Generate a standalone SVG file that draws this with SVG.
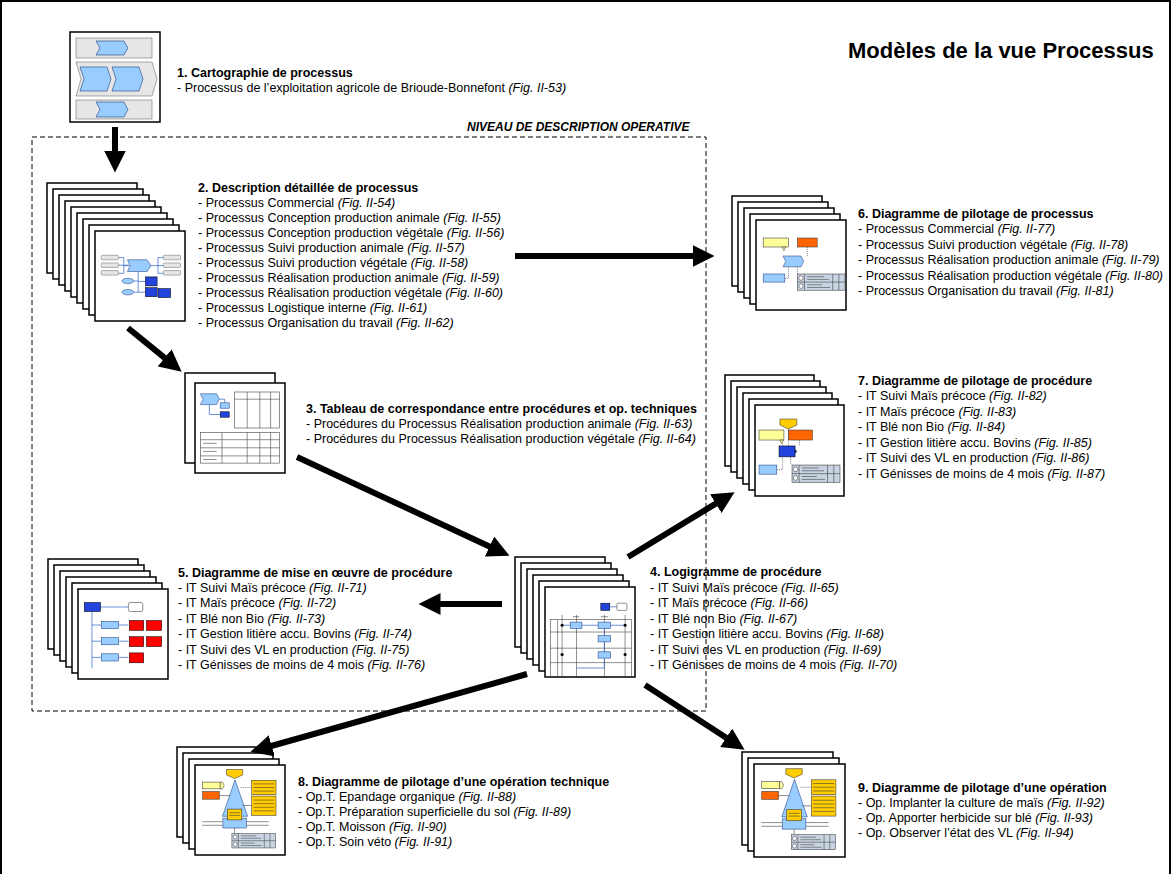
<svg xmlns="http://www.w3.org/2000/svg" xmlns:xlink="http://www.w3.org/1999/xlink" width="1172" height="874" viewBox="0 0 1172 874">
<style>
text{font-family:"Liberation Sans",Arial,sans-serif;font-size:12.5px;fill:#000}
.h{font-weight:bold}
.i{font-style:italic}
.pg{fill:#fff;stroke:#000;stroke-width:1.5}
.arr{stroke:#000;stroke-width:6;fill:none}
.lb{fill:#99ccff;stroke:#1f3f7f;stroke-width:.6}
.db{fill:#2244dd;stroke:#000;stroke-width:.6}
.gr{fill:#e6e6e6;stroke:#555;stroke-width:.5}
.bl{stroke:#3366cc;stroke-width:.8;fill:none}
.yl{fill:#ffcc00;stroke:#333;stroke-width:.6}
.py{fill:#ffff99;stroke:#333;stroke-width:.6}
.or{fill:#ff6600;stroke:#333;stroke-width:.6}
.rd{fill:#ff0000;stroke:#000;stroke-width:.6}
.wb{fill:#fff;stroke:#333;stroke-width:.6}
.tb{fill:#c8d4e2;stroke:#333;stroke-width:.6}
.ln{stroke:#333;stroke-width:.6;fill:none}
.dt{stroke:#333;stroke-width:.6;fill:none;stroke-dasharray:1.2 1}
</style>
<defs>
<marker id="ah" markerUnits="userSpaceOnUse" viewBox="0 0 22 22" refX="0.5" refY="11" markerWidth="22" markerHeight="22" orient="auto"><path d="M0,0 L22,11 L0,22 z" fill="#000"/></marker>
<g id="tbl">
<rect class="tb" x="0" y="0" width="54" height="18"/>
<line class="ln" x1="0" y1="9" x2="54" y2="9"/><line class="ln" x1="8" y1="0" x2="8" y2="18"/>
<line class="ln" x1="40" y1="0" x2="40" y2="18"/><line class="ln" x1="47" y1="0" x2="47" y2="18"/>
<circle cx="4" cy="4.5" r="2.5" class="wb"/><circle cx="4" cy="13.5" r="2.5" class="wb"/>
<path class="ln" d="M11,3 H30 M11,6 H36 M11,12 H28 M11,15 H37" stroke="#778"/>
</g>
<g id="c2">
<path class="bl" d="M26,29.5 H32 V38.5 H38 M26,38 H38 M26,47 H32 V38.5 M60,38.5 H70 V29.5 H76 M70,38.5 H76 M70,38.5 V47 H76 M48,45 V56 H56 M48,56 V68 H56 M43,55.5 H48 M43,68 H48"/>
<rect class="gr" x="7" y="27" width="19" height="5" rx="1"/><rect class="gr" x="7" y="35.5" width="19" height="5" rx="1"/><rect class="gr" x="7" y="44" width="19" height="5" rx="1"/>
<rect class="gr" x="76" y="27" width="19" height="5" rx="1"/><rect class="gr" x="76" y="35.5" width="19" height="5" rx="1"/><rect class="gr" x="76" y="44" width="19" height="5" rx="1"/>
<polygon class="lb" points="36,32 58,32 62,38.5 58,45 36,45 39,38.5"/>
<ellipse class="lb" cx="36.5" cy="55.5" rx="6.5" ry="3"/><ellipse class="lb" cx="36.5" cy="68" rx="6.5" ry="3"/>
<rect class="db" x="56" y="51" width="13" height="10"/><rect class="db" x="56" y="63" width="13" height="10"/><rect class="db" x="70" y="64" width="14" height="10"/>
</g>
<g id="c3">
<polygon class="lb" points="6,12 24,12 27,18 24,24 6,24 9,18"/>
<path class="bl" d="M16,24 V35 H28 M27,18 H33 V22"/>
<rect class="lb" x="28" y="22" width="10" height="6"/><rect class="db" x="28" y="32" width="10" height="6"/>
<rect class="ln" x="44" y="10" width="50" height="40"/>
<path class="ln" d="M44,18 H94 M58,10 V50 M72,10 V50 M84,10 V50"/>
<rect class="ln" x="6" y="55" width="88" height="34"/>
<path class="ln" d="M6,63 H94 M6,72 H94 M6,81 H94 M30,55 V89 M58,55 V89 M72,55 V89 M84,55 V89"/>
<path class="ln" stroke="#999" d="M9,67 H24 M9,76 H24 M9,85 H24"/>
</g>
<g id="c4">
<rect class="db" x="62" y="18" width="10" height="8"/><rect class="wb" x="80" y="18" width="11" height="8" rx="1"/>
<line class="bl" x1="72" y1="22" x2="80" y2="22"/>
<rect class="ln" x="6" y="36" width="90" height="64"/>
<path class="ln" d="M6,50 H96 M6,68 H96 M6,84 H96 M14,36 V100"/>
<path class="ln" d="M19,31 V100 M35,31 V100 M66,31 V100 M89,31 V100"/>
<path class="ln" stroke="#999" d="M31,33 H38 M62,33 H70"/>
<rect class="lb" x="28" y="39" width="13" height="7"/><rect class="lb" x="59" y="39" width="14" height="7"/>
<rect class="lb" x="59" y="54" width="14" height="7"/><rect class="lb" x="59" y="72" width="14" height="7"/>
<path class="bl" d="M19,42.5 H28 M41,42.5 H59 M66,46 V54 M66,61 V72 M73,42.5 H89 M66,79 V90 H35"/>
<circle cx="19" cy="42.5" r="1.7"/><circle cx="89" cy="42.5" r="1.7"/><circle cx="19" cy="75" r="1.7"/><circle cx="89" cy="75" r="1.7"/>
</g>
<g id="c5">
<path class="bl" d="M24,20 H56 M15.5,25 V88 M15.5,40 H26 M15.5,58 H26 M15.5,76 H26 M45,40 H56 M45,58 H56 M45,76 H56"/>
<rect class="db" x="7" y="15" width="18" height="10"/><rect class="wb" x="56" y="15" width="16" height="10" rx="2"/>
<rect class="lb" x="26" y="36" width="19" height="8"/><rect class="rd" x="57" y="35" width="16" height="11"/><rect class="rd" x="76" y="35" width="17" height="11"/>
<rect class="lb" x="26" y="54" width="19" height="8"/><rect class="rd" x="57" y="53" width="16" height="11"/><rect class="rd" x="76" y="53" width="17" height="11"/>
<rect class="lb" x="26" y="72" width="19" height="8"/><rect class="rd" x="57" y="71" width="16" height="11"/>
</g>
<g id="c6">
<rect class="py" x="8" y="20" width="28" height="10"/><rect class="or" x="46" y="20" width="22" height="10"/>
<polygon class="lb" points="30,40 50,40 53,46 50,52 30,52 33,46"/>
<path class="dt" d="M32,65 H36 V52 M46,52 V60 M57,30 V40"/>
<path d="M29,30 l2,4 l2,-4 z" class="py"/>
<rect class="lb" x="8" y="60" width="24" height="9"/>
<use xlink:href="#tbl" transform="translate(46,60) scale(0.98,1)"/>
</g>
<g id="c7">
<polygon class="yl" points="28,15.4 47,15.4 47,22 37.5,26.4 28,22"/>
<rect class="py" x="4.5" y="27.5" width="28" height="11"/><path class="py" d="M28,38.5 l2,4 l2,-4 z"/>
<rect class="or" x="37.6" y="27.5" width="27" height="11"/>
<path class="dt" d="M37.5,26.4 V45 M31,42.5 V47 H27 M50,38.5 V45 M24.7,71 H31 V57 M40,57 V66"/>
<rect class="db" x="27" y="45" width="18" height="12"/><path class="db" d="M45,49 l2,2 l-2,2 z"/>
<rect class="lb" x="4.5" y="66" width="20" height="10"/>
<use xlink:href="#tbl" transform="translate(41.6,66) scale(0.998,1.05)"/>
</g>
<g id="c8">
<polygon class="yl" points="35,5 53,5 53,11 44,15 35,11"/>
<polygon class="lb" points="44.5,16.5 30.5,57 58.5,57"/>
<rect class="py" x="8.5" y="19" width="19.5" height="7.5"/><path class="py" d="M28,19 h2.5 l2,3.75 l-2,3.75 h-2.5 z"/>
<rect class="or" x="8.5" y="29.5" width="18.5" height="8.5"/>
<path class="ln" d="M27,34 H39 M63,45 H53"/><path class="dt" d="M63,25 H50"/>
<rect class="yl" x="63" y="17" width="27" height="16"/><rect class="yl" x="63" y="34.5" width="27" height="21.5"/>
<path class="ln" d="M65,21 H88 M65,25 H88 M65,29 H88 M65,39 H88 M65,43 H88 M65,47 H88 M65,51 H88"/>
<path class="ln" d="M8,63 H31 M8,67 H31 M57,63 H82 M57,67 H82 M44,70 V76"/>
<rect class="lb" x="31" y="59" width="26" height="11"/>
<rect class="yl" x="36" y="49" width="16" height="12"/>
<path class="ln" d="M38,53 H50 M38,56 H50"/>
<use xlink:href="#tbl" transform="translate(41,76) scale(0.9,0.9)"/>
</g>
</defs>

<rect x="1" y="1" width="1169" height="900" fill="none" stroke="#000" stroke-width="2"/>

<text x="848" y="58" class="h" style="font-size:22px">Modèles de la vue Processus</text>

<rect id="niveau" x="32" y="137" width="674" height="574" fill="none" stroke="#000" stroke-width="1" stroke-dasharray="5 3"/>
<text x="467" y="131" class="h i" style="font-size:12px">NIVEAU DE DESCRIPTION OPERATIVE</text>

<g id="n1">
<rect class="pg" x="70" y="32" width="90" height="90"/>
<rect class="gr" x="76" y="38" width="76" height="20"/>
<polygon class="lb" points="96,41 124,41 128,48 124,55 96,55 100,48"/>
<polygon class="gr" points="76,62 152,62 157,79 152,96 76,96 81,79"/>
<polygon class="lb" points="80,67 107,67 111,79 107,91 80,91 84,79"/>
<polygon class="lb" points="112,67 139,67 143,79 139,91 112,91 116,79"/>
<rect class="gr" x="76" y="100" width="76" height="19"/>
<polygon class="lb" points="96,102 124,102 128,109.5 124,117 96,117 100,109.5"/>
<text x="177" y="77" class="h">1. Cartographie de processus</text>
<text x="177" y="92">- Processus de l’exploitation agricole de Brioude-Bonnefont <tspan class="i">(Fig. II-53)</tspan></text>
</g>

<g id="n2">
<rect class="pg" x="47" y="183" width="90" height="90"/><rect class="pg" x="53" y="189" width="90" height="90"/>
<rect class="pg" x="59" y="195" width="90" height="90"/><rect class="pg" x="65" y="201" width="90" height="90"/>
<rect class="pg" x="71" y="207" width="90" height="90"/><rect class="pg" x="77" y="213" width="90" height="90"/>
<rect class="pg" x="83" y="219" width="90" height="90"/><rect class="pg" x="89" y="225" width="90" height="90"/>
<rect class="pg" x="95" y="231" width="90" height="90"/>
<use xlink:href="#c2" transform="translate(95,231) scale(0.9,0.9)"/>
<text x="198" y="192" class="h">2. Description détaillée de processus</text>
<text x="198" y="207">- Processus Commercial <tspan class="i">(Fig. II-54)</tspan></text>
<text x="198" y="222">- Processus Conception production animale <tspan class="i">(Fig. II-55)</tspan></text>
<text x="198" y="237">- Processus Conception production végétale <tspan class="i">(Fig. II-56)</tspan></text>
<text x="198" y="252">- Processus Suivi production animale <tspan class="i">(Fig. II-57)</tspan></text>
<text x="198" y="267">- Processus Suivi production végétale <tspan class="i">(Fig. II-58)</tspan></text>
<text x="198" y="282">- Processus Réalisation production animale <tspan class="i">(Fig. II-59)</tspan></text>
<text x="198" y="297">- Processus Réalisation production végétale <tspan class="i">(Fig. II-60)</tspan></text>
<text x="198" y="312">- Processus Logistique interne <tspan class="i">(Fig. II-61)</tspan></text>
<text x="198" y="327">- Processus Organisation du travail <tspan class="i">(Fig. II-62)</tspan></text>
</g>

<g id="n3">
<rect class="pg" x="185" y="373" width="90" height="90"/><rect class="pg" x="195" y="383" width="90" height="90"/>
<use xlink:href="#c3" transform="translate(195,383) scale(0.9,0.9)"/>
<text x="306" y="413" class="h">3. Tableau de correspondance entre procédures et op. techniques</text>
<text x="306" y="428">- Procédures du Processus Réalisation production animale <tspan class="i">(Fig. II-63)</tspan></text>
<text x="306" y="443">- Procédures du Processus Réalisation production végétale <tspan class="i">(Fig. II-64)</tspan></text>
</g>

<g id="n4">
<rect class="pg" x="515" y="557" width="90" height="90"/><rect class="pg" x="521" y="563" width="90" height="90"/>
<rect class="pg" x="527" y="569" width="90" height="90"/><rect class="pg" x="533" y="575" width="90" height="90"/>
<rect class="pg" x="539" y="581" width="90" height="90"/><rect class="pg" x="545" y="587" width="90" height="90"/>
<use xlink:href="#c4" transform="translate(545,587) scale(0.9,0.9)"/>
<text x="650" y="576" class="h">4. Logigramme de procédure</text>
<text x="650" y="592">- IT Suivi Maïs précoce <tspan class="i">(Fig. II-65)</tspan></text>
<text x="650" y="607">- IT Maïs précoce <tspan class="i">(Fig. II-66)</tspan></text>
<text x="650" y="623">- IT Blé non Bio <tspan class="i">(Fig. II-67)</tspan></text>
<text x="650" y="638">- IT Gestion litière accu. Bovins <tspan class="i">(Fig. II-68)</tspan></text>
<text x="650" y="654">- IT Suivi des VL en production <tspan class="i">(Fig. II-69)</tspan></text>
<text x="650" y="669">- IT Génisses de moins de 4 mois <tspan class="i">(Fig. II-70)</tspan></text>
</g>

<g id="n5">
<rect class="pg" x="48" y="559" width="90" height="90"/><rect class="pg" x="54" y="565" width="90" height="90"/>
<rect class="pg" x="60" y="571" width="90" height="90"/><rect class="pg" x="66" y="577" width="90" height="90"/>
<rect class="pg" x="72" y="583" width="90" height="90"/><rect class="pg" x="78" y="589" width="90" height="90"/>
<use xlink:href="#c5" transform="translate(78,589) scale(0.9,0.9)"/>
<text x="178" y="577" class="h">5. Diagramme de mise en œuvre de procédure</text>
<text x="178" y="592">- IT Suivi Maïs précoce <tspan class="i">(Fig. II-71)</tspan></text>
<text x="178" y="607">- IT Maïs précoce <tspan class="i">(Fig. II-72)</tspan></text>
<text x="178" y="623">- IT Blé non Bio <tspan class="i">(Fig. II-73)</tspan></text>
<text x="178" y="638">- IT Gestion litière accu. Bovins <tspan class="i">(Fig. II-74)</tspan></text>
<text x="178" y="654">- IT Suivi des VL en production <tspan class="i">(Fig. II-75)</tspan></text>
<text x="178" y="669">- IT Génisses de moins de 4 mois <tspan class="i">(Fig. II-76)</tspan></text>
</g>

<g id="n6">
<rect class="pg" x="732" y="196" width="90" height="90"/><rect class="pg" x="738" y="202" width="90" height="90"/>
<rect class="pg" x="744" y="208" width="90" height="90"/><rect class="pg" x="750" y="214" width="90" height="90"/>
<rect class="pg" x="756" y="220" width="90" height="90"/>
<use xlink:href="#c6" transform="translate(756,220) scale(0.9,0.9)"/>
<text x="858" y="218" class="h">6. Diagramme de pilotage de processus</text>
<text x="858" y="233">- Processus Commercial <tspan class="i">(Fig. II-77)</tspan></text>
<text x="858" y="249">- Processus Suivi production végétale <tspan class="i">(Fig. II-78)</tspan></text>
<text x="858" y="264">- Processus Réalisation production animale <tspan class="i">(Fig. II-79)</tspan></text>
<text x="858" y="280">- Processus Réalisation production végétale <tspan class="i">(Fig. II-80)</tspan></text>
<text x="858" y="295">- Processus Organisation du travail <tspan class="i">(Fig. II-81)</tspan></text>
</g>

<g id="n7">
<rect class="pg" x="725" y="375" width="89" height="91"/><rect class="pg" x="731" y="381" width="89" height="91"/>
<rect class="pg" x="737" y="387" width="89" height="91"/><rect class="pg" x="743" y="393" width="89" height="91"/>
<rect class="pg" x="749" y="399" width="89" height="91"/><rect class="pg" x="755" y="405" width="89" height="91"/>
<use xlink:href="#c7" transform="translate(755,405) scale(0.89,0.91)"/>
<text x="858" y="385" class="h">7. Diagramme de pilotage de procédure</text>
<text x="858" y="400">- IT Suivi Maïs précoce <tspan class="i">(Fig. II-82)</tspan></text>
<text x="858" y="416">- IT Maïs précoce <tspan class="i">(Fig. II-83)</tspan></text>
<text x="858" y="431">- IT Blé non Bio <tspan class="i">(Fig. II-84)</tspan></text>
<text x="858" y="447">- IT Gestion litière accu. Bovins <tspan class="i">(Fig. II-85)</tspan></text>
<text x="858" y="462">- IT Suivi des VL en production <tspan class="i">(Fig. II-86)</tspan></text>
<text x="858" y="478">- IT Génisses de moins de 4 mois <tspan class="i">(Fig. II-87)</tspan></text>
</g>

<g id="n8">
<rect class="pg" x="177" y="747" width="90" height="90"/><rect class="pg" x="183" y="753" width="90" height="90"/>
<rect class="pg" x="189" y="759" width="90" height="90"/><rect class="pg" x="195" y="765" width="90" height="90"/>
<use xlink:href="#c8" transform="translate(195,765) scale(0.9,0.9)"/>
<text x="298" y="786" class="h">8. Diagramme de pilotage d’une opération technique</text>
<text x="298" y="801">- Op.T. Epandage organique <tspan class="i">(Fig. II-88)</tspan></text>
<text x="298" y="816">- Op.T. Préparation superficielle du sol <tspan class="i">(Fig. II-89)</tspan></text>
<text x="298" y="831">- Op.T. Moisson <tspan class="i">(Fig. II-90)</tspan></text>
<text x="298" y="846">- Op.T. Soin véto <tspan class="i">(Fig. II-91)</tspan></text>
</g>

<g id="n9">
<rect class="pg" x="742" y="752" width="91" height="93"/><rect class="pg" x="748" y="758" width="91" height="93"/>
<rect class="pg" x="754" y="764" width="91" height="93"/>
<use xlink:href="#c8" transform="translate(754,764) scale(0.91,0.93)"/>
<text x="858" y="792" class="h">9. Diagramme de pilotage d’une opération</text>
<text x="858" y="807">- Op. Implanter la culture de maïs <tspan class="i">(Fig. II-92)</tspan></text>
<text x="858" y="822">- Op. Apporter herbicide sur blé <tspan class="i">(Fig. II-93)</tspan></text>
<text x="858" y="837">- Op. Observer l’état des VL <tspan class="i">(Fig. II-94)</tspan></text>
</g>

<g id="connectors">
<line class="arr" x1="115" y1="127" x2="115" y2="151" marker-end="url(#ah)"/>
<line class="arr" x1="515" y1="256" x2="693" y2="256" marker-end="url(#ah)"/>
<line class="arr" x1="128" y1="328" x2="165" y2="358.1" marker-end="url(#ah)"/>
<line class="arr" x1="297" y1="457" x2="490" y2="546.7" marker-end="url(#ah)"/>
<line class="arr" x1="628" y1="557" x2="716.2" y2="503.4" marker-end="url(#ah)"/>
<line class="arr" x1="502" y1="604" x2="440" y2="604" marker-end="url(#ah)"/>
<line class="arr" x1="527" y1="674" x2="271.2" y2="746" marker-end="url(#ah)"/>
<line class="arr" x1="645" y1="685" x2="726.6" y2="738" marker-end="url(#ah)"/>
</g>
</svg>
